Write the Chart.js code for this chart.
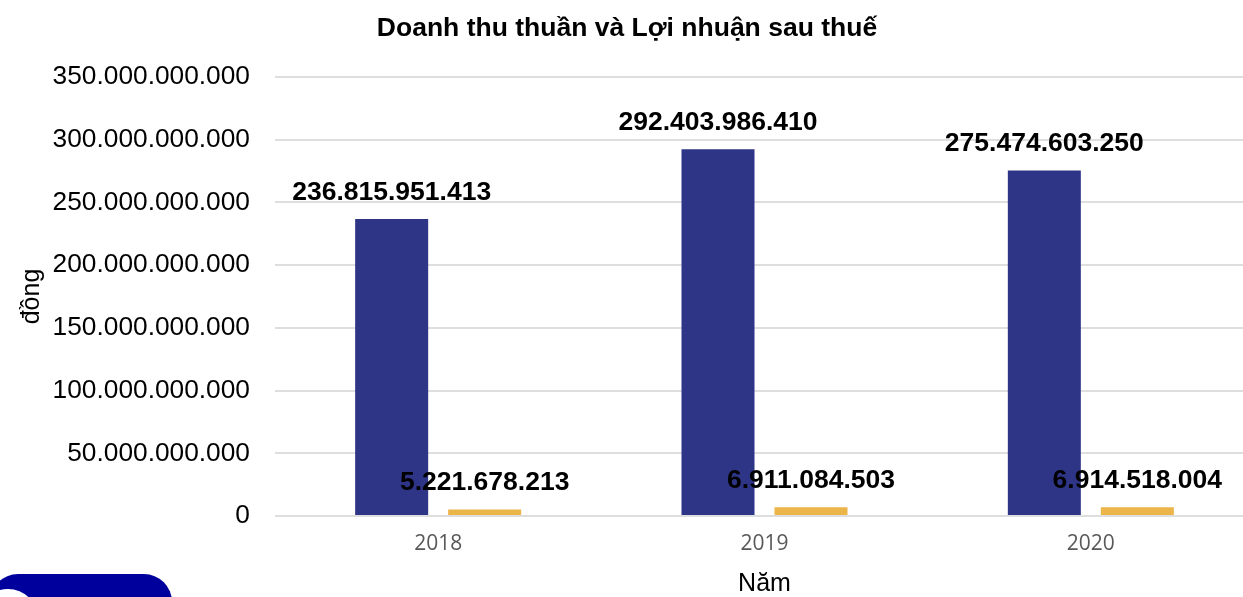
<!DOCTYPE html>
<html>
<head>
<meta charset="utf-8">
<script src="https://cdn.jsdelivr.net/npm/chart.js@4"></script>
<style>
  html, body { margin: 0; padding: 0; background: #fff; overflow: hidden; width: 1243px; height: 597px; }
  #wrap { position: absolute; left: 0; top: 0; width: 1254px; height: 597px; }
  #logo { position: absolute; left: -10px; top: 574px; width: 182px; height: 60px; background: #00009c; border-radius: 28px; overflow: hidden; }
  #logo .c { position: absolute; left: -12px; top: 15px; width: 60px; height: 60px; border-radius: 50%; background: #fff; }
</style>
</head>
<body>
<div id="wrap"><canvas id="c"></canvas></div>
<div id="logo"><div class="c"></div></div>
<script>
const categories = ['2018', '2019', '2020'];
const revenue = [236815951413, 292403986410, 275474603250];
const profit = [5221678213, 6911084503, 6914518004];
const seriesNames = ['Doanh thu thuần', 'Lợi nhuận sau thuế'];
const yTicks = [0, 50000000000, 100000000000, 150000000000, 200000000000, 250000000000, 300000000000, 350000000000];

function fmt(v) {
  return String(Math.round(v)).replace(/\B(?=(\d{3})+(?!\d))/g, '.');
}

const labelPlugin = {
  id: 'barLabels',
  afterDatasetsDraw(chart) {
    const ctx = chart.ctx;
    ctx.save();
    ctx.font = 'bold 26.5px "Liberation Sans", Arial, sans-serif';
    ctx.fillStyle = '#000';
    ctx.textAlign = 'center';
    ctx.textBaseline = 'alphabetic';
    chart.data.datasets.forEach((ds, i) => {
      chart.getDatasetMeta(i).data.forEach((bar, j) => {
        ctx.fillText(fmt(ds.data[j]), bar.x, bar.y - 19);
      });
    });
    ctx.restore();
  }
};

new Chart(document.getElementById('c'), {
  type: 'bar',
  data: {
    labels: categories,
    datasets: [
      { label: seriesNames[0], data: revenue, backgroundColor: '#2e3586', categoryPercentage: 0.57, barPercentage: 0.785 },
      { label: seriesNames[1], data: profit, backgroundColor: '#ebb54a', categoryPercentage: 0.57, barPercentage: 0.785 }
    ]
  },
  options: {
    responsive: true,
    maintainAspectRatio: false,
    animation: false,
    layout: { padding: 0 },
    plugins: {
      legend: { display: false },
      tooltip: { enabled: false },
      title: {
        display: true,
        text: 'Doanh thu thuần và Lợi nhuận sau thuế',
        color: '#000',
        font: { family: '"Liberation Sans", Arial, sans-serif', size: 26.5, weight: 'bold', lineHeight: 1.2 },
        padding: { top: 12.5, bottom: 32.7 }
      }
    },
    scales: {
      x: {
        grid: { display: false, drawTicks: false },
        border: { display: false },
        ticks: { color: '#595959', font: { family: '"Open Sans", sans-serif', size: 21 }, padding: 15 },
        title: { display: true, text: 'Năm', color: '#000', font: { family: '"Liberation Sans", Arial, sans-serif', size: 25, lineHeight: 1 }, padding: { top: 0, bottom: 0 } },
        afterFit(scale) { scale.height = 81; }
      },
      y: {
        min: 0,
        max: 350000000000,
        grid: { color: '#dedede', lineWidth: 2, drawTicks: false },
        border: { display: false },
        afterBuildTicks(scale) { scale.ticks = yTicks.map(v => ({ value: v })); },
        ticks: {
          color: '#000',
          padding: 25,
          font: { family: '"Liberation Sans", Arial, sans-serif', size: 26.3 },
          callback: (v) => fmt(v)
        },
        title: { display: true, text: 'đồng', color: '#000', font: { family: '"Liberation Sans", Arial, sans-serif', size: 25, lineHeight: 1 }, padding: { top: 20, bottom: 0 } },
        afterFit(scale) { scale.width = 275; }
      }
    }
  },
  plugins: [labelPlugin]
});
</script>
</body>
</html>
